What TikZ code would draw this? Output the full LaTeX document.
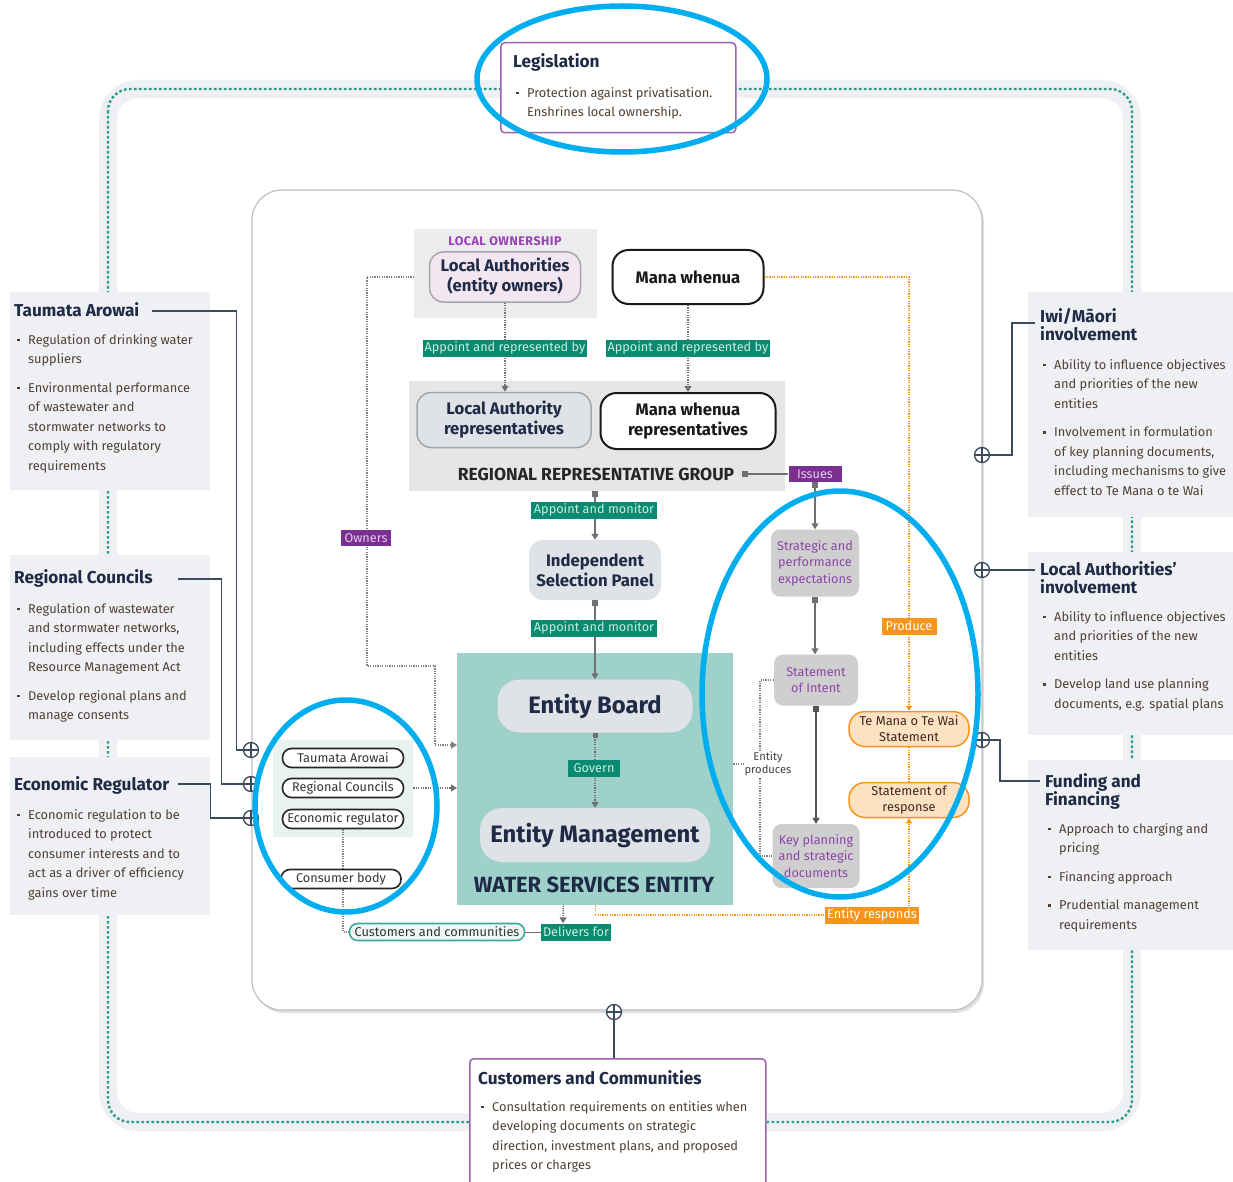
\documentclass[tikz,border=0pt]{standalone}
\usepackage{fontspec}
\setmainfont{Fira Sans}
\usetikzlibrary{arrows.meta,shadows,calc}
\definecolor{navy}{HTML}{1F2B46}
\definecolor{bodyc}{HTML}{4F4034}
\definecolor{panelg}{HTML}{EEF0F3}
\definecolor{tealdot}{HTML}{2B9C8C}
\definecolor{greenlab}{HTML}{0A8A70}
\definecolor{greentxt}{HTML}{C9EEDF}
\definecolor{purp}{HTML}{7B2F8F}
\definecolor{purptxt}{HTML}{E6CCEE}
\definecolor{purpborder}{HTML}{9B63AF}
\definecolor{lopurp}{HTML}{9B3FB5}
\definecolor{orng}{HTML}{F7941D}
\definecolor{orngfill}{HTML}{FDE2C2}
\definecolor{wsec}{HTML}{9DD1CA}
\definecolor{nodeg}{HTML}{DFE2E6}
\definecolor{docg}{HTML}{CFCFCF}
\definecolor{doctxt}{HTML}{8D45A8}
\definecolor{annotc}{HTML}{00AEEF}
\definecolor{lineg}{HTML}{707070}
\definecolor{darkline}{HTML}{555555}
\definecolor{connc}{HTML}{3B4A5E}
\definecolor{lobg}{HTML}{ECECEE}
\definecolor{rrgbg}{HTML}{E6E6E6}
\definecolor{lav}{HTML}{F2E6F1}
\definecolor{regbg}{HTML}{E8F2F0}
\definecolor{ccfill}{HTML}{EEF7F4}
\definecolor{ccdraw}{HTML}{3FA898}
\definecolor{tmwtxt}{HTML}{3A2A1E}
\newcommand{\mybul}{\makebox[11pt][l]{\raisebox{3pt}{\rule{2.6pt}{2.6pt}}}}
\newcommand{\myind}{\hspace*{11pt}}
\begin{document}
\begin{tikzpicture}[x=1pt,y=-1pt,
  panel/.style={fill=panelg, draw=none, anchor=north west, inner sep=0, outer sep=0},
  ttl/.style={font=\fontsize{17.2}{19}\selectfont\bfseries, text=navy, inner sep=0, align=left, anchor=west},
  ttltwo/.style={font=\fontsize{17.2}{18.5}\selectfont\bfseries, text=navy, inner sep=0, align=left, anchor=north west},
  bodyt/.style={font=\fontsize{12.8}{19.5}\selectfont, text=bodyc, inner sep=0, align=left, anchor=north west},
  purpbox/.style={draw=purpborder, line width=1.5pt, fill=white, rounded corners=4pt, anchor=north west, inner sep=0},
  conn/.style={draw=connc, line width=1.4pt},
  pluscirc/.style={circle, draw=connc, line width=1.3pt, fill=white, minimum size=15pt, inner sep=0,
     path picture={\draw[connc, line width=1.1pt] (path picture bounding box.north) -- (path picture bounding box.south) (path picture bounding box.west) -- (path picture bounding box.east);}},
  bignode/.style={rounded corners=14pt, align=center, inner sep=0, font=\fontsize{16.7}{20}\selectfont\bfseries, text=navy},
  glab/.style={fill=greenlab, text=greentxt, font=\fontsize{12.7}{14}\selectfont, inner sep=1pt, minimum height=17pt},
  plab/.style={fill=purp, text=purptxt, font=\fontsize{12.7}{14}\selectfont, inner sep=1pt, minimum height=16pt},
  olab/.style={fill=orng, text=white, font=\fontsize{12.7}{14}\selectfont, inner sep=1pt, minimum height=17pt},
  docnode/.style={fill=docg, rounded corners=9pt, text=doctxt, font=\fontsize{12.7}{16.5}\selectfont, align=center, inner sep=0},
  orpill/.style={fill=orngfill, draw=orng, line width=1.5pt, rounded corners=16pt, align=center, font=\fontsize{12.8}{16}\selectfont, text=tmwtxt, inner sep=0},
  regpill/.style={draw=black!85, line width=1.6pt, fill=white, rounded corners=9pt, minimum width=121pt, minimum height=19pt, inner sep=0, font=\fontsize{12.7}{14}\selectfont, text=black!80},
  ccpill/.style={draw=ccdraw, line width=1.6pt, fill=ccfill, rounded corners=8pt, minimum width=175pt, minimum height=17pt, inner sep=0, font=\fontsize{12.8}{14}\selectfont, text=black!80},
  gline/.style={draw=lineg, line width=1.6pt},
  sarr/.style={draw=lineg, line width=1.6pt, {Square[length=6pt,width=6pt]}-{Triangle[length=6pt,width=7pt]}},
  darr/.style={draw=lineg, line width=1.4pt, dash pattern=on 1.2pt off 1.2pt, -{Triangle[length=6pt,width=7pt]}},
  gdot/.style={draw=gray, line width=1.3pt, dash pattern=on 1.2pt off 1.2pt},
  odot/.style={draw=orng, line width=1.3pt, dash pattern=on 1.2pt off 1.2pt},
  annotst/.style={draw=annotc, line width=5.5pt},
  innerp/.style={fill=white, draw=black!25, line width=1.2pt, rounded corners=30pt, inner sep=0,
     drop shadow={shadow xshift=2pt, shadow yshift=-3pt, opacity=0.25}}
]
\useasboundingbox (0,0) rectangle (1233,1182);
\fill[white] (0,0) rectangle (1233,1182);
% outer frame
\draw[line width=18pt, panelg, rounded corners=30pt] (108,89) rectangle (1132,1122);
\draw[line width=2.4pt, tealdot, dash pattern=on 2.6pt off 2.4pt, rounded corners=22pt] (108,89) rectangle (1132,1122);
% inner panel
\node[innerp, minimum width=730pt, minimum height=820pt] (inner) at (617,600) {};

% legislation
\node[purpbox, minimum width=235pt, minimum height=90pt] (legbox) at (500,42) {};
\node[ttl] (legt) at (513,62) {Legislation};
\node[bodyt] (legb) at (516,87) {\mybul Protection against privatisation.\\\myind Enshrines local ownership.};

% left panels
\node[panel, minimum width=200pt, minimum height=198pt] (tap) at (10,292) {};
\node[ttl] (tat) at (14,310) {Taumata Arowai};
\node[bodyt] (tab) at (17,334) {\mybul Regulation of drinking water\\\myind suppliers\\[9pt]\mybul Environmental performance\\\myind of wastewater and\\\myind stormwater networks to\\\myind comply with regulatory\\\myind requirements};

\node[panel, minimum width=200pt, minimum height=185pt] (rcp) at (10,555) {};
\node[ttl] (rct) at (14,578) {Regional Councils};
\node[bodyt] (rcb) at (17,603) {\mybul Regulation of wastewater\\\myind and stormwater networks,\\\myind including effects under the\\\myind Resource Management Act\\[9pt]\mybul Develop regional plans and\\\myind manage consents};

\node[panel, minimum width=200pt, minimum height=158pt] (erp) at (10,757) {};
\node[ttl] (ert) at (14,785) {Economic Regulator};
\node[bodyt] (erb) at (17,809) {\mybul Economic regulation to be\\\myind introduced to protect\\\myind consumer interests and to\\\myind act as a driver of efficiency\\\myind gains over time};

% right panels
\node[panel, minimum width=205pt, minimum height=225pt] (iwp) at (1028,292) {};
\node[ttltwo] (iwt) at (1040,308) {Iwi/Māori\\involvement};
\node[bodyt] (iwb) at (1043,359) {\mybul Ability to influence objectives\\\myind and priorities of the new\\\myind entities\\[9pt]\mybul Involvement in formulation\\\myind of key planning documents,\\\myind including mechanisms to give\\\myind effect to Te Mana o te Wai};

\node[panel, minimum width=205pt, minimum height=183pt] (lap) at (1028,552) {};
\node[ttltwo] (lat) at (1040,561) {Local Authorities’\\involvement};
\node[bodyt] (lab) at (1043,611) {\mybul Ability to influence objectives\\\myind and priorities of the new\\\myind entities\\[9pt]\mybul Develop land use planning\\\myind documents, e.g. spatial plans};

\node[panel, minimum width=205pt, minimum height=190pt] (fup) at (1028,760) {};
\node[ttltwo] (fut) at (1045,773) {Funding and\\Financing};
\node[bodyt] (fub) at (1048,823) {\mybul Approach to charging and\\\myind pricing\\[9pt]\mybul Financing approach\\[9pt]\mybul Prudential management\\\myind requirements};

% bottom panel
\node[purpbox, minimum width=296pt, minimum height=130pt] (ccbox) at (469,1058) {};
\node[ttl] (cct) at (478,1078) {Customers and Communities};
\node[bodyt] (ccb) at (481,1101) {\mybul Consultation requirements on entities when\\\myind developing documents on strategic\\\myind direction, investment plans, and proposed\\\myind prices or charges};

% plus circles and connectors
\coordinate (tas) at (152,311);
\coordinate (rcs) at (178,579);
\coordinate (ers) at (178,784);
\coordinate (iws) at (1035,323);
\coordinate (las) at (1035,570);
\coordinate (fus) at (1040,781);
\node[pluscirc] (c1) at (251,750) {};
\node[pluscirc] (c2) at (251,784) {};
\node[pluscirc] (c3) at (251,818) {};
\node[pluscirc] (c4) at (982,455) {};
\node[pluscirc] (c5) at (982,570) {};
\node[pluscirc] (c6) at (982,740) {};
\node[pluscirc] (c7) at (614,1012) {};
\draw[conn] (tas) -| ([xshift=-6.5pt]c1.west) -- (c1.west);
\draw[conn] (rcs) -| ([xshift=-21.5pt]c2.west) -- (c2.west);
\draw[conn] (ers) -| ([xshift=-32.5pt]c3.west) -- (c3.west);
\draw[conn] (c4.east) -| ([xshift=-23pt]iws) -- (iws);
\draw[conn] (c5.east) -- (las);
\draw[conn] (c6.east) -| ([xshift=-40pt]fus) -- (fus);
\draw[conn] (c7.south) -- (c7.south |- ccbox.north);

% local ownership
\node[fill=lobg, minimum width=183pt, minimum height=89pt, anchor=north west, inner sep=0] (lobox) at (414,229) {};
\node[font=\fontsize{12.5}{14}\selectfont\bfseries\addfontfeature{LetterSpace=4}, text=lopurp, inner sep=0] (lol) at (505,241) {LOCAL OWNERSHIP};
\node[bignode, fill=lav, draw=gray!70, line width=1.5pt, minimum width=151pt, minimum height=50pt] (lao) at (505,277) {Local Authorities\\(entity owners)};
\node[bignode, fill=white, draw=black!90, line width=2pt, rounded corners=16pt, minimum width=151pt, minimum height=54pt, text=black!90] (mw) at (688,277) {Mana whenua};
% regional representative group
\node[fill=rrgbg, minimum width=376pt, minimum height=110pt, anchor=north west, inner sep=0] (rrg) at (409,381) {};
\node[bignode, fill=nodeg, draw=gray!70, line width=1.5pt, minimum width=174pt, minimum height=55pt] (lar) at (504,420) {Local Authority\\representatives};
\node[bignode, fill=white, draw=black!90, line width=2pt, rounded corners=16pt, minimum width=175pt, minimum height=56pt, text=black!90] (mwr) at (688,421) {Mana whenua\\representatives};
\node[font=\fontsize{17.5}{20}\selectfont\bfseries, text=black!85, inner sep=0] (rrgl) at (596,474) {REGIONAL REPRESENTATIVE GROUP};
\draw[darr] (lao.south) -- (lao.south |- lar.north);
\draw[darr] (mw.south) -- (mw.south |- mwr.north);
\node[glab, minimum width=164pt] (g1) at (505,348) {Appoint and represented by};
\node[glab, minimum width=164pt] (g2) at (688,348) {Appoint and represented by};

% selection panel
\node[bignode, fill=nodeg, minimum width=132pt, minimum height=60pt] (isp) at (595,570) {Independent\\Selection Panel};
\draw[sarr] (isp.north |- rrg.south) -- (isp.north);
\node[glab, minimum width=126pt] (g3) at (594,510) {Appoint and monitor};

% water services entity
\node[fill=wsec, minimum width=276pt, minimum height=252pt, anchor=north west, inner sep=0] (wse) at (457,653) {};
\node[bignode, fill=nodeg, rounded corners=22pt, font=\fontsize{23.8}{28}\selectfont\bfseries, minimum width=195pt, minimum height=53pt] (eb) at (595,706) {Entity Board};
\node[bignode, fill=nodeg, rounded corners=22pt, font=\fontsize{23.8}{28}\selectfont\bfseries, minimum width=230pt, minimum height=54pt] (em) at (595,835) {Entity Management};
\node[font=\fontsize{22}{25}\selectfont\bfseries, text=navy, inner sep=0] (wsel) at (594,885) {WATER SERVICES ENTITY};
\draw[sarr] (isp.south) -- (eb.north);
\node[glab, minimum width=126pt] (g4) at (594,628) {Appoint and monitor};
\draw[darr, {Square[length=5pt,width=5pt]}-{Triangle[length=6pt,width=7pt]}] (eb.south) -- (em.north);
\node[glab, minimum width=52pt] (g5) at (594,768) {Govern};

% owners
\draw[gdot, -{Triangle[length=6pt,width=7pt]}] (lobox.west |- lao.west) -- (367,277) -- (367,666) -- (435,666) -- (435,745) -- ([yshift=-92pt]wse.north west);
\node[plab, minimum width=50pt] (own) at (366,538) {Owners};

% regulators
\node[fill=regbg, minimum width=140pt, minimum height=97pt, anchor=north west, inner sep=0] (regbox) at (273,740) {};
\node[regpill] (rp1) at (343,758) {Taumata Arowai};
\node[regpill] (rp2) at (343,788) {Regional Councils};
\node[regpill] (rp3) at (343,819) {Economic regulator};
\draw[darr] (regbox.east |- rp2.east) -- (wse.west |- rp2.east);
\node[ccpill] (ccp) at (437,932) {Customers and communities};
\draw[gdot] (rp3.south) -- (rp3.south |- ccp.west) -- (ccp.west);
\node[regpill, minimum width=120pt] (cb) at (341,879) {Consumer body};
\node[glab, minimum width=70pt] (del) at (576,932) {Delivers for};
\draw[draw=lineg, line width=1pt] (ccp.east) -- (del.west);
\draw[darr] ([xshift=-32pt]wse.south) -- ([xshift=-13pt]del.north);

% right column
\node[plab, minimum width=53pt] (iss) at (815,474) {Issues};
\draw[draw=lineg, line width=1.6pt, {Square[length=6pt,width=6pt]}-] ([xshift=8pt]rrgl.east) -- (iss.west);
\node[docnode, minimum width=88pt, minimum height=67pt] (spe) at (815,563) {Strategic and\\performance\\expectations};
\draw[sarr] (iss.south) -- (spe.north);
\node[docnode, minimum width=84pt, minimum height=51pt] (soi) at (816,680) {Statement\\of Intent};
\draw[sarr] (spe.south) -- (spe.south |- soi.north);
\node[docnode, minimum width=87pt, minimum height=64pt] (kpd) at (816,856) {Key planning\\and strategic\\documents};
\draw[sarr, draw=darkline] (soi.south) -- (kpd.north);
\node[font=\fontsize{11.2}{13}\selectfont, text=black!75, align=center, inner sep=1pt] (ep) at (768,764) {Entity\\produces};
\coordinate (bx) at (760,764);
\draw[gdot] (soi.west) -| (bx |- ep.north);
\draw[gdot] (kpd.west) -| (bx |- ep.south);
\draw[gdot] (wse.east |- ep.west) -- (ep.west);

% orange
\node[orpill, minimum width=120pt, minimum height=35pt] (tmw) at (909,729) {Te Mana o Te Wai\\Statement};
\node[orpill, minimum width=120pt, minimum height=35pt] (sor) at (909,800) {Statement of\\response};
\draw[odot, -{Triangle[length=5pt,width=6pt]}] (mw.east) -| (tmw.north);
\node[olab, minimum width=55pt] (prod) at (909,626) {Produce};
\draw[odot] (tmw.south) -- (sor.north);
\node[olab, minimum width=94pt] (eres) at (872,915) {Entity responds};
\draw[odot] (wse.south) |- (eres.west);
\draw[odot, -{Triangle[length=5pt,width=6pt]}] (sor.south |- eres.north) -- (sor.south);

% annotation ellipses
\draw[annotst] (622,79) ellipse [x radius=145, y radius=73];
\draw[annotst] (346,806) ellipse [x radius=91, y radius=106];
\draw[annotst] (840,694) ellipse [x radius=138, y radius=203];
\end{tikzpicture}
\end{document}
